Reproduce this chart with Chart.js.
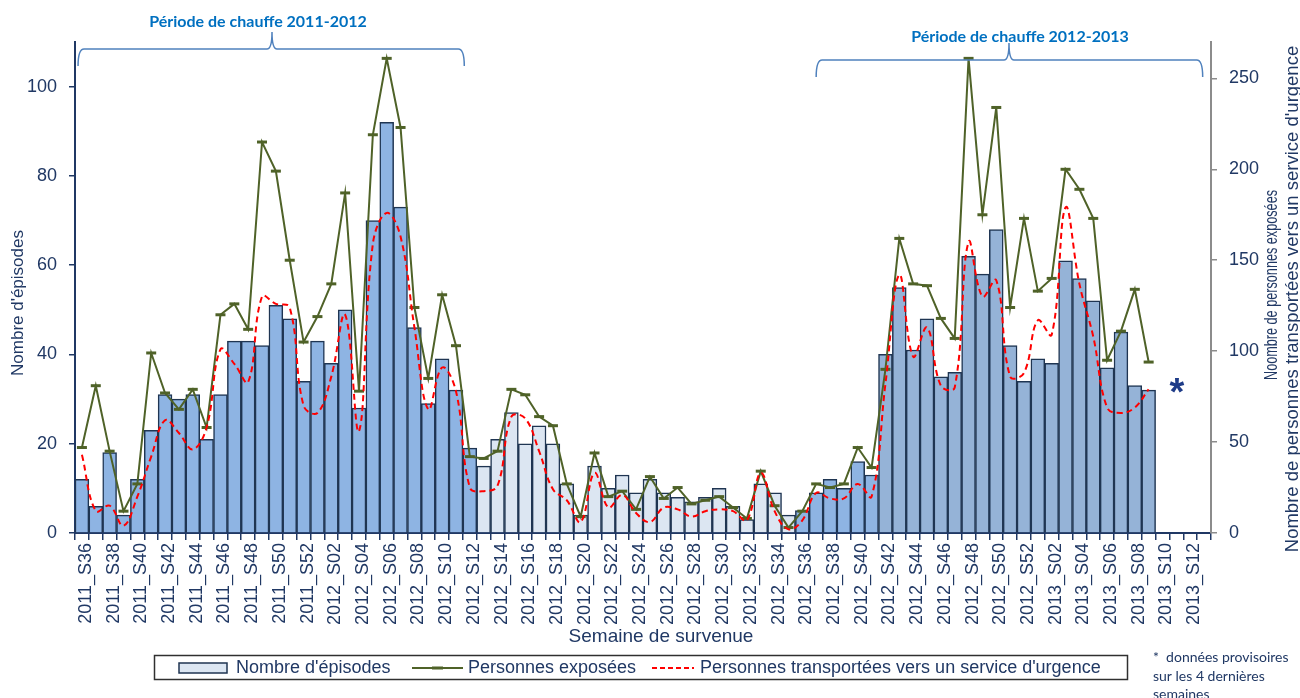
<!DOCTYPE html>
<html>
<head>
<meta charset="utf-8">
<script src="https://cdn.jsdelivr.net/npm/chart.js@4.4.1/dist/chart.umd.min.js"></script>
<style>
  html, body { margin: 0; padding: 0; background: #fff; }
  #c { display: block; }
</style>
</head>
<body>
<canvas id="c" width="1300" height="698"></canvas>
<script>
// semaines 2011_S36 -> 2013_S13
const weeks = [
  '2011_S36','2011_S37','2011_S38','2011_S39','2011_S40','2011_S41','2011_S42','2011_S43','2011_S44',
  '2011_S45','2011_S46','2011_S47','2011_S48','2011_S49','2011_S50','2011_S51','2011_S52',
  '2012_S01','2012_S02','2012_S03','2012_S04','2012_S05','2012_S06','2012_S07','2012_S08','2012_S09',
  '2012_S10','2012_S11','2012_S12','2012_S13','2012_S14','2012_S15','2012_S16','2012_S17','2012_S18',
  '2012_S19','2012_S20','2012_S21','2012_S22','2012_S23','2012_S24','2012_S25','2012_S26','2012_S27',
  '2012_S28','2012_S29','2012_S30','2012_S31','2012_S32','2012_S33','2012_S34','2012_S35','2012_S36',
  '2012_S37','2012_S38','2012_S39','2012_S40','2012_S41','2012_S42','2012_S43','2012_S44','2012_S45',
  '2012_S46','2012_S47','2012_S48','2012_S49','2012_S50','2012_S51','2012_S52',
  '2013_S01','2013_S02','2013_S03','2013_S04','2013_S05','2013_S06','2013_S07','2013_S08','2013_S09',
  '2013_S10','2013_S11','2013_S12','2013_S13'
];

const episodes = [
  12, 6, 18, 4, 12, 23, 31, 30, 31, 21,
  31, 43, 43, 42, 51, 48, 34, 43, 38, 50,
  28, 70, 92, 73, 46, 29, 39, 32, 19, 15,
  21, 27, 20, 24, 20, 11, 4, 15, 10, 13,
  9, 12, 9, 8, 7, 8, 10, 6, 3, 11,
  9, 4, 5, 9, 12, 10, 16, 13, 40, 55,
  41, 48, 35, 36, 62, 58, 68, 42, 34, 39,
  38, 61, 57, 52, 37, 45, 33, 32, null, null, null, null
];

const exposed = [
  47, 81, 45, 12, 27, 99, 77, 68, 79, 58,
  120, 126, 112, 215, 199, 150, 105, 119, 137, 187,
  78, 219, 261, 223, 124, 85, 131, 103, 42, 41,
  45, 79, 76, 64, 59, 27, 9, 44, 20, 23,
  13, 31, 19, 25, 16, 18, 20, 14, 8, 34,
  15, 3, 12, 27, 25, 27, 47, 36, 90, 162,
  137, 136, 118, 107, 261, 175, 234, 124, 173, 133,
  140, 200, 189, 173, 95, 111, 134, 94, null, null, null, null
];

const transported = [
  43, 12, 15, 4, 20, 42, 62, 55, 46, 58,
  101, 93, 83, 130, 126, 124, 70, 66, 86, 120,
  56, 159, 176, 163, 113, 68, 91, 78, 25, 23,
  26, 64, 63, 45, 24, 18, 6, 33, 14, 21,
  11, 6, 14, 13, 9, 12, 13, 12, 7, 33,
  12, 2, 7, 22, 19, 19, 27, 20, 82, 142,
  97, 113, 81, 80, 160, 130, 139, 86, 88, 117,
  109, 179, 137, 108, 69, 66, 69, 79, null, null, null, null
];

const leftTicks = [0, 20, 40, 60, 80, 100];
const rightTicks = [0, 50, 100, 150, 200, 250];

const navy = '#203864';
const font = "Arial, 'Liberation Sans', sans-serif";

// couleurs des barres : chauffe 2011-2012 / hors chauffe / chauffe 2012-2013
const barColors = weeks.map((w, i) => {
  if (i <= 28) return '#8EB4E3';
  if (i <= 51) return '#DCE6F2';
  if (i <= 57) return '#8EB4E3';
  return '#95B3D7';
});

const extras = {
  id: 'extras',
  afterDraw(chart) {
    const ctx = chart.ctx;
    const xs = chart.scales.x;
    const px = i => xs.getPixelForValue(i);

    function bracket(x1, x2, cx, y, depth, up) {
      ctx.beginPath();
      ctx.moveTo(x1, y + depth);
      ctx.quadraticCurveTo(x1, y, x1 + 6, y);
      ctx.lineTo(cx - 5, y);
      ctx.quadraticCurveTo(cx, y, cx, y - up);
      ctx.quadraticCurveTo(cx, y, cx + 5, y);
      ctx.lineTo(x2 - 6, y);
      ctx.quadraticCurveTo(x2, y, x2, y + depth);
      ctx.stroke();
    }

    ctx.save();
    ctx.strokeStyle = '#4F81BD';
    ctx.lineWidth = 1.5;
    bracket(px(-0.28), px(27.6), 272, 49, 17, 17);
    bracket(px(53.0), px(80.9), 1009, 60, 17, 17);

    ctx.fillStyle = '#0070C0';
    ctx.font = "bold 16px Lato, 'Open Sans', sans-serif";
    ctx.textAlign = 'center';
    ctx.textBaseline = 'middle';
    ctx.fillText('Période de chauffe 2011-2012', 258, 22);
    ctx.fillText('Période de chauffe 2012-2013', 1020, 37);

    // titres d'axes
    ctx.fillStyle = navy;
    ctx.font = '17px ' + font;
    ctx.save();
    ctx.translate(18, 303);
    ctx.rotate(-Math.PI / 2);
    ctx.fillText("Nombre d'épisodes", 0, 0);
    ctx.restore();

    ctx.font = '18.5px ' + font;
    ctx.save();
    ctx.translate(1272, 285);
    ctx.rotate(-Math.PI / 2);
    ctx.fillText('Noombre de personnes exposées', 0, 0, 190);
    ctx.restore();

    ctx.save();
    ctx.translate(1293, 299);
    ctx.rotate(-Math.PI / 2);
    ctx.fillText("Nombre de personnes transportées vers un service d'urgence", 0, 0, 512);
    ctx.restore();

    ctx.font = '19px ' + font;
    ctx.fillText('Semaine de survenue', 661, 637);

    // astérisque
    ctx.font = 'bold 38px ' + font;
    ctx.fillStyle = '#1F3C88';
    ctx.textBaseline = 'alphabetic';
    ctx.fillText('*', 1177, 405);

    // légende
    ctx.strokeStyle = '#303030';
    ctx.lineWidth = 1.5;
    ctx.strokeRect(154.5, 655.5, 973, 24);
    const ly = 668;
    ctx.fillStyle = '#DCE6F2';
    ctx.fillRect(179, 663, 48, 10);
    ctx.strokeStyle = '#1F3552';
    ctx.lineWidth = 1.5;
    ctx.strokeRect(179, 663, 48, 10);

    ctx.strokeStyle = '#4F6228';
    ctx.lineWidth = 2;
    ctx.beginPath(); ctx.moveTo(412, ly); ctx.lineTo(463, ly); ctx.stroke();
    ctx.lineWidth = 3;
    ctx.beginPath(); ctx.moveTo(432, ly); ctx.lineTo(443, ly); ctx.stroke();

    ctx.strokeStyle = '#FF0000';
    ctx.lineWidth = 2;
    ctx.setLineDash([5, 3]);
    ctx.beginPath(); ctx.moveTo(652, ly); ctx.lineTo(694, ly); ctx.stroke();
    ctx.setLineDash([]);

    ctx.fillStyle = navy;
    ctx.font = '18px ' + font;
    ctx.textAlign = 'left';
    ctx.textBaseline = 'middle';
    ctx.fillText("Nombre d'épisodes", 236, ly);
    ctx.fillText('Personnes exposées', 468, ly);
    ctx.fillText("Personnes transportées vers un service d'urgence", 700, ly);

    // note
    ctx.font = "14px Lato, 'Open Sans', sans-serif";
    ctx.fillText('*  données provisoires', 1153, 657, 138);
    ctx.fillText('sur les 4 dernières', 1153, 676);
    ctx.fillText('semaines', 1153, 694);
    ctx.restore();
  }
};

new Chart(document.getElementById('c'), {
  data: {
    labels: weeks,
    datasets: [
      {
        type: 'line',
        label: 'Personnes transportées vers un service d\'urgence',
        data: transported,
        yAxisID: 'y1',
        borderColor: '#FF0000',
        borderWidth: 2,
        borderDash: [6, 4],
        pointRadius: 0,
        tension: 0.4,
        order: 1
      },
      {
        type: 'line',
        label: 'Personnes exposées',
        data: exposed,
        yAxisID: 'y1',
        borderColor: '#4F6228',
        borderWidth: 2,
        pointStyle: 'line',
        pointRadius: 5,
        pointBorderWidth: 3,
        pointBorderColor: '#4F6228',
        tension: 0,
        order: 2
      },
      {
        type: 'bar',
        label: "Nombre d'épisodes",
        data: episodes,
        yAxisID: 'y',
        backgroundColor: barColors,
        borderColor: '#1F3552',
        borderWidth: 1.5,
        barPercentage: 1,
        categoryPercentage: 1,
        order: 3
      }
    ]
  },
  options: {
    responsive: false,
    animation: false,
    layout: { padding: { top: 42, bottom: 0, left: 0, right: 0 } },
    plugins: { legend: { display: false }, tooltip: { enabled: false } },
    scales: {
      x: {
        type: 'category',
        offset: true,
        grid: { display: true, drawOnChartArea: false, offset: true, tickLength: 7, color: navy, lineWidth: 1.5 },
        border: { color: navy, width: 2 },
        ticks: {
          autoSkip: false, maxRotation: 90, minRotation: 90, padding: 3, labelOffset: 4,
          color: navy, font: { family: font, size: 18 },
          callback: (v, i) => (i % 2 === 0 ? weeks[i] : '')
        },
        afterFit: s => { s.height = 165; }
      },
      y: {
        position: 'left',
        min: 0, max: 110,
        ticks: { stepSize: 20, color: navy, font: { family: font, size: 18 }, padding: 12 },
        afterBuildTicks: s => { s.ticks = leftTicks.map(v => ({ value: v })); },
        grid: { drawOnChartArea: false, tickLength: 6, color: navy, lineWidth: 1.5 },
        border: { color: navy, width: 2 },
        afterFit: s => { s.width = 75; }
      },
      y1: {
        position: 'right',
        min: 0, max: 270,
        ticks: { stepSize: 50, color: navy, font: { family: font, size: 18 }, padding: 12 },
        afterBuildTicks: s => { s.ticks = rightTicks.map(v => ({ value: v })); },
        grid: { drawOnChartArea: false, tickLength: 6, color: '#8C8C8C', lineWidth: 1.5 },
        border: { color: '#8C8C8C', width: 2 },
        afterFit: s => { s.width = 89; }
      }
    }
  },
  plugins: [extras]
});
</script>
</body>
</html>
